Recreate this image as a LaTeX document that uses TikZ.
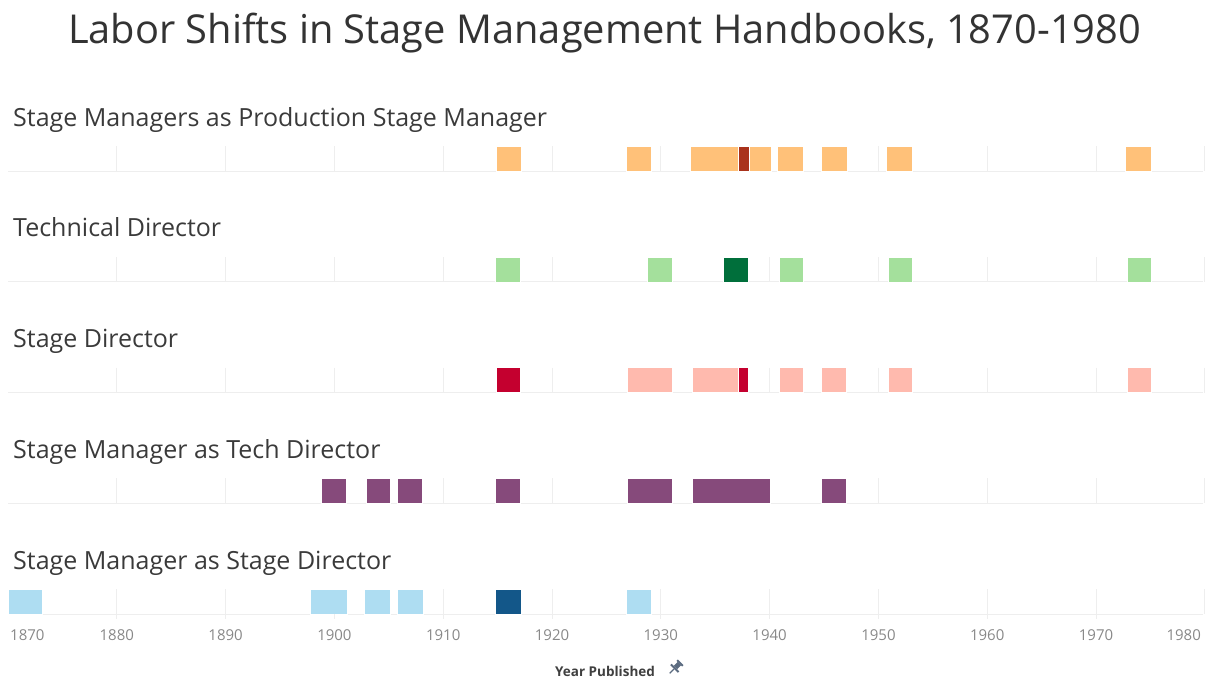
\documentclass[tikz,border=0pt]{standalone}
\usepackage{fontspec}
\setmainfont{Open Sans}
\definecolor{titlegray}{HTML}{333333}
\definecolor{labelgray}{HTML}{3A3A3A}
\definecolor{tickgray}{HTML}{888888}
\definecolor{axisdark}{HTML}{3F3F3F}
\definecolor{gridgray}{HTML}{EEEEEE}
\definecolor{pingray}{HTML}{5B6B80}
\definecolor{psmlight}{HTML}{FFC179}
\definecolor{psmdark}{HTML}{A9321C}
\definecolor{tdlight}{HTML}{A4E09C}
\definecolor{tddark}{HTML}{006F3B}
\definecolor{sdlight}{HTML}{FFBAAE}
\definecolor{sddark}{HTML}{C4002F}
\definecolor{smtd}{HTML}{864A7B}
\definecolor{smsdlight}{HTML}{AEDDF2}
\definecolor{smsddark}{HTML}{135789}

\begin{document}
\begin{tikzpicture}[x=1pt,y=-1pt,
  rowlabel/.style={anchor=base west,inner sep=0pt,font=\fontsize{25}{30}\selectfont,text=labelgray},
  yearlabel/.style={anchor=base,inner sep=0pt,font=\fontsize{15}{18}\selectfont,text=tickgray},
  gridline/.style={draw=gridgray,line width=1pt},
  cell/.style={draw=white,line width=0.4pt}
]
\useasboundingbox (0,0) rectangle (1214,680);
\node[anchor=base,inner sep=0pt,font=\fontsize{39.8}{48}\selectfont,text=titlegray] (title) at (604.5,43)
  {Labor Shifts in Stage Management Handbooks, 1870-1980};

% rows: label, grid, baseline
\foreach \r/\name in {0/Stage Managers as Production Stage Manager,1/Technical Director,
  2/Stage Director,3/Stage Manager as Tech Director,4/Stage Manager as Stage Director}{
  \pgfmathsetmacro\rowtop{146+110.75*\r}
  \node[rowlabel] (label\r) at (13,\rowtop-20) {\name};
  \foreach \k in {1,...,11}
    \draw[gridline] (8+108.8*\k,\rowtop) -- ++(0,25);
  \draw[gridline] (8,\rowtop+25) -- (1203,\rowtop+25);
}

% bars
\foreach \a/\b/\c in {496/521/psmlight,626/651/psmlight,690/738/psmlight,738/749/psmdark,
  749/771/psmlight,777/803/psmlight,821/847/psmlight,886/912/psmlight,1125/1151/psmlight}
  \fill[\c,cell] (\a,146) rectangle (\b,171);
\foreach \a/\b/\c in {495/520/tdlight,647/672/tdlight,723/748/tddark,
  779/803/tdlight,888/912/tdlight,1127/1151/tdlight}
  \fill[\c,cell] (\a,256.75) rectangle (\b,281.75);
\foreach \a/\b/\c in {496/520/sddark,627/672/sdlight,692/738/sdlight,738/748/sddark,
  779/803/sdlight,821/846/sdlight,888/912/sdlight,1127/1151/sdlight}
  \fill[\c,cell] (\a,367.5) rectangle (\b,392.5);
\foreach \a/\b in {321/346,366/390,397/422,495/520,627/672,692/770,821/846}
  \fill[smtd,cell] (\a,478.25) rectangle (\b,503.25);
\foreach \a/\b/\c in {8/42/smsdlight,310/347/smsdlight,364/390/smsdlight,397/423/smsdlight,
  495/521/smsddark,626/651/smsdlight}
  \fill[\c,cell] (\a,589) rectangle (\b,614);

% axis
\foreach \yr [count=\k] in {1880,1890,...,1970}{
  \draw[gridline] (8+108.8*\k,614) -- ++(0,5);
  \node[yearlabel] (year\yr) at (8+108.8*\k,640) {\yr};
}
\node[yearlabel,anchor=base west] (year1870) at (10,640) {1870};
\node[yearlabel,anchor=base east] (year1980) at (1201,640) {1980};
\node[anchor=base west,inner sep=0pt,font=\bfseries\fontsize{13.5}{16}\selectfont,text=axisdark]
  (axistitle) at (555,676) {Year Published};

% pin
\begin{scope}[shift={(674,669)},rotate=-45,scale=1.35,pingray]
  \fill (-3,-7) rectangle (3,-5.5);
  \fill (-1.8,-5.5) rectangle (1.8,-1.5);
  \fill (-4,-1.5) rectangle (4,0);
  \draw[line width=1.3pt] (0,0) -- (0,4.5);
\end{scope}
\end{tikzpicture}
\end{document}
